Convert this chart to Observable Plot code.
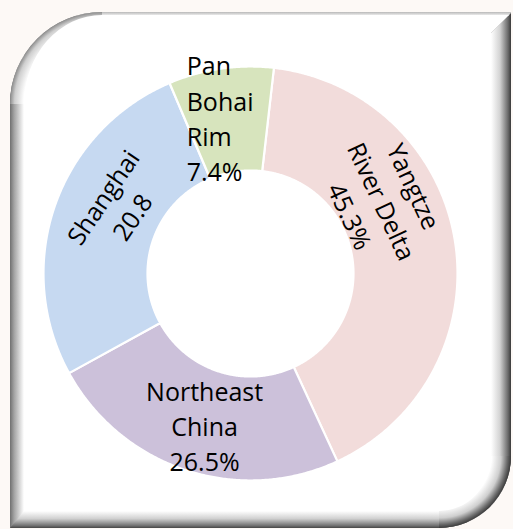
<!DOCTYPE html>
<html>
<head>
<meta charset="utf-8">
<script src="https://cdn.jsdelivr.net/npm/d3@7"></script>
<script src="https://cdn.jsdelivr.net/npm/@observablehq/plot@0.6"></script>
<style>
  html, body { margin: 0; padding: 0; background: #fdf9f6; }
  #wrap { position: relative; width: 513px; height: 529px; }
  #frame, #chart { position: absolute; left: 0; top: 0; }
</style>
</head>
<body>
<div id="wrap">
<svg id="frame" width="513" height="529" viewBox="0 0 513 529">
  <defs>
    <clipPath id="clipO">
      <path d="M10,104 A92,92 0 0 1 102,12 L511,12 L511,456 A72,72 0 0 1 439,528 L10,528 Z"/>
    </clipPath>
    <linearGradient id="gLeft" gradientUnits="userSpaceOnUse" x1="10" y1="0" x2="24" y2="0">
      <stop offset="0" stop-color="#707070"/>
      <stop offset="0.3" stop-color="#a4a4a4"/>
      <stop offset="1" stop-color="#ffffff"/>
    </linearGradient>
    <linearGradient id="gTop" gradientUnits="userSpaceOnUse" x1="0" y1="12" x2="0" y2="15.5">
      <stop offset="0" stop-color="#b8b8b8"/>
      <stop offset="1" stop-color="#f2f2f2"/>
    </linearGradient>
    <linearGradient id="gRight" gradientUnits="userSpaceOnUse" x1="491" y1="0" x2="511" y2="0">
      <stop offset="0" stop-color="#ffffff"/>
      <stop offset="0.45" stop-color="#d2d2d2"/>
      <stop offset="0.85" stop-color="#6a6a6a"/>
      <stop offset="1" stop-color="#3a3a3a"/>
    </linearGradient>
    <linearGradient id="gBottom" gradientUnits="userSpaceOnUse" x1="0" y1="511" x2="0" y2="528">
      <stop offset="0" stop-color="#ffffff"/>
      <stop offset="0.45" stop-color="#d0d0d0"/>
      <stop offset="0.85" stop-color="#747474"/>
      <stop offset="1" stop-color="#464646"/>
    </linearGradient>
    <radialGradient id="gBR" gradientUnits="userSpaceOnUse" cx="439" cy="456" r="72">
      <stop offset="0.73" stop-color="#ffffff"/>
      <stop offset="0.86" stop-color="#cfcfcf"/>
      <stop offset="0.95" stop-color="#6a6a6a"/>
      <stop offset="1" stop-color="#3a3a3a"/>
    </radialGradient>
    <radialGradient id="gTL" gradientUnits="userSpaceOnUse" cx="102" cy="104" r="92">
      <stop offset="0.85" stop-color="#ffffff"/>
      <stop offset="0.95" stop-color="#cfcfcf"/>
      <stop offset="1" stop-color="#8c8c8c"/>
    </radialGradient>
  </defs>
  <g clip-path="url(#clipO)">
    <rect x="0" y="0" width="513" height="529" fill="#8e8e8e"/>
    <rect x="10" y="12" width="14" height="516" fill="url(#gLeft)"/>
    <rect x="10" y="12" width="501" height="4" fill="url(#gTop)"/>
    <polygon points="491,33 511,13 511,528 491,528" fill="url(#gRight)"/>
    <polygon points="10,528 24,511 511,511 511,528" fill="url(#gBottom)"/>
    <rect x="439" y="456" width="72" height="72" fill="url(#gBR)"/>
    <rect x="10" y="12" width="92" height="92" fill="url(#gTL)"/>
    <path d="M24,104 A78,89 0 0 1 102,15 L509,15 L491,33 L491,456 A52,55 0 0 1 439,511 L24,511 Z" fill="#ffffff"/>
  </g>
</svg>
<div id="chart"></div>
</div>
<script>
// ---- data ----
const regionNames = ["Yangtze\nRiver Delta", "Northeast\nChina", "Shanghai", "Pan\nBohai\nRim"];
// share of the ring each slice occupies
const sliceShare = [41.3, 23.9, 26.6, 8.2];
// value text as printed on the chart
const printedValue = ["45.3%", "26.5%", "20.8", "7.4%"];

// ---- styling / layout (not data) ----
const sliceColors = ["#f2dcdb", "#ccc1da", "#c6d9f1", "#d7e4bd"];
const W = 513, H = 529;
const layout = {cx: 250, cy: 273, rOuter: 207, rInner: 103, startDeg: 6.5};
const labelStyle = [
  {nudge: -19.6, r: 151.7, rotate: 65, anchor: "middle"},
  {nudge: -1.3, r: 157.9, rotate: 0, anchor: "middle"},
  {nudge: 7.5, r: 150.5, rotate: -56, anchor: "middle"},
  {nudge: -13.9, r: 169.1, rotate: 0, anchor: "start"}
];

const rows = regionNames.map((name, i) => ({name, share: sliceShare[i], value: printedValue[i], color: sliceColors[i], i}));
const rad = Math.PI / 180;
const a0 = layout.startDeg * rad;
const arcs = d3.pie().sort(null).value(d => d.share).startAngle(a0).endAngle(a0 + 2 * Math.PI)(rows);

// build ring-slice outlines in chart units (1 unit = 1 px, origin at ring centre, y up)
function slicePoints(a) {
  const pts = [];
  const n = Math.max(8, Math.ceil((a.endAngle - a.startAngle) / (0.4 * rad)));
  for (let k = 0; k <= n; k++) {
    const t = a.startAngle + (a.endAngle - a.startAngle) * k / n;
    pts.push({x: layout.rOuter * Math.sin(t), y: layout.rOuter * Math.cos(t)});
  }
  for (let k = n; k >= 0; k--) {
    const t = a.startAngle + (a.endAngle - a.startAngle) * k / n;
    pts.push({x: layout.rInner * Math.sin(t), y: layout.rInner * Math.cos(t)});
  }
  pts.push(pts[0]);
  return pts;
}

const labels = arcs.map(a => {
  const s = labelStyle[a.data.i];
  const mid = (a.startAngle + a.endAngle) / 2 + s.nudge * rad;
  return {
    x: s.r * Math.sin(mid),
    y: s.r * Math.cos(mid),
    text: a.data.name + "\n" + a.data.value,
    rotate: s.rotate,
    anchor: s.anchor
  };
});

const textOpts = {
  x: "x", y: "y", text: "text", rotate: "rotate",
  fontFamily: "Open Sans, Noto Sans, sans-serif", fontSize: 25,
  lineHeight: 1.41, lineAnchor: "middle", fill: "#000"
};

const chart = Plot.plot({
  width: W, height: H, margin: 0,
  x: {domain: [-layout.cx, W - layout.cx], axis: null},
  y: {domain: [layout.cy - H, layout.cy], axis: null},
  style: {background: "transparent", overflow: "visible"},
  marks: [
    ...arcs.map(a => Plot.line(slicePoints(a), {
      x: "x", y: "y", fill: a.data.color, stroke: "#ffffff", strokeWidth: 2.2,
      strokeLinejoin: "miter", strokeMiterlimit: 4, curve: "linear"
    })),
    Plot.text(labels.filter(d => d.anchor === "middle"), {...textOpts, textAnchor: "middle"}),
    Plot.text(labels.filter(d => d.anchor === "start"), {...textOpts, textAnchor: "start"})
  ]
});
document.getElementById("chart").appendChild(chart);
</script>
</body>
</html>
